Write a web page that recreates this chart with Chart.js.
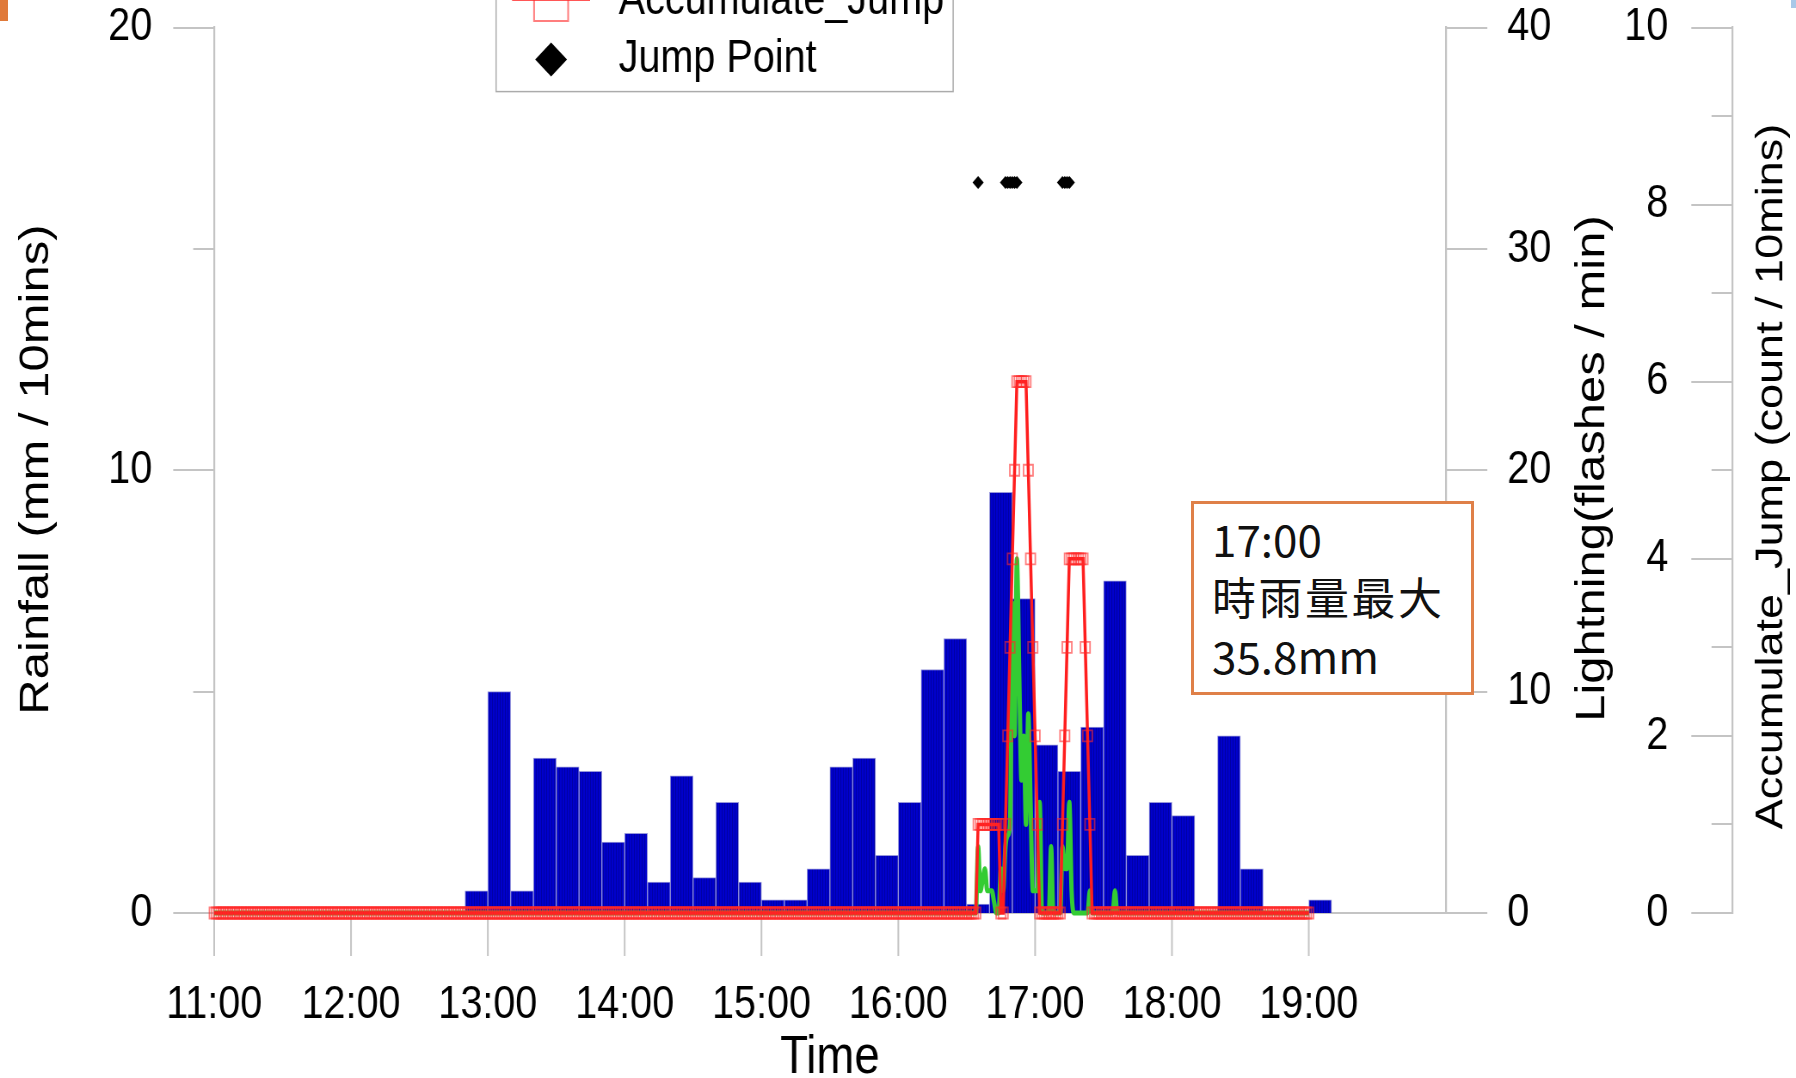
<!DOCTYPE html>
<html>
<head>
<meta charset="utf-8">
<title>Rainfall, Lightning and Lightning Jumps</title>
<script src="https://cdn.jsdelivr.net/npm/chart.js@4.4.1/dist/chart.umd.min.js"></script>
<style>
  html, body { margin: 0; padding: 0; background: #fff; }
  #stage { position: relative; width: 1796px; height: 1078px; overflow: hidden; background: #fff; }
  #chart { position: absolute; left: 0; top: 0; display: block; }
  #corner { position: absolute; left: 0; top: 0; width: 8px; height: 21px; background: #E07A3A; }
  #cornerR { position: absolute; left: 1791px; top: 0; width: 5px; height: 8px; background: #A9C8E8; }
  #note {
    position: absolute; left: 1191px; top: 501px; width: 283px; height: 194px;
    box-sizing: border-box; border: 3.5px solid #DF8048; background: #fff;
    font-family: "Noto Sans CJK TC", "Noto Sans", sans-serif; color: #111;
  }
  #note .ln { position: absolute; left: 18px; font-size: 44px; line-height: 44px; white-space: nowrap; }
  #note .cjk { letter-spacing: 2.5px; }
</style>
</head>
<body>
<div id="stage">
  <canvas id="chart" width="2088" height="1078" style="width:1796px;height:1078px;"></canvas>
  <div id="corner"></div>
  <div id="cornerR"></div>
  <div id="note">
    <div class="ln" style="top:12px">17:00</div>
    <div class="ln cjk" style="top:70px">時雨量最大</div>
    <div class="ln" style="top:129px">35.8mm</div>
  </div>
</div>
<script>
// ---------------- data ----------------
// hour tick labels on the time axis
const hourLabels = ['11:00', '12:00', '13:00', '14:00', '15:00', '16:00', '17:00', '18:00', '19:00'];

// 10-minute rainfall slots (start time of each slot)
const rainSlots = [
  '11:00', '11:10', '11:20', '11:30', '11:40', '11:50',
  '12:00', '12:10', '12:20', '12:30', '12:40', '12:50',
  '13:00', '13:10', '13:20', '13:30', '13:40', '13:50',
  '14:00', '14:10', '14:20', '14:30', '14:40', '14:50',
  '15:00', '15:10', '15:20', '15:30', '15:40', '15:50',
  '16:00', '16:10', '16:20', '16:30', '16:40', '16:50',
  '17:00', '17:10', '17:20', '17:30', '17:40', '17:50',
  '18:00', '18:10', '18:20', '18:30', '18:40', '18:50',
  '19:00'
];
// rainfall, mm / 10 mins
const rainfall = [
  0, 0, 0, 0, 0, 0,
  0, 0, 0, 0, 0, 0.5,
  5.0, 0.5, 3.5, 3.3, 3.2, 1.6,
  1.8, 0.7, 3.1, 0.8, 2.5, 0.7,
  0.3, 0.3, 1.0, 3.3, 3.5, 1.3,
  2.5, 5.5, 6.2, 0.2, 9.5, 7.1,
  3.8, 3.2, 4.2, 7.5, 1.3, 2.5,
  2.2, 0, 4.0, 1.0, 0, 0,
  0.3
];

// lightning, flashes / min, one value per minute from 11:00 to 19:00
const lightning = [
  // 11:00
  0,0,0,0,0,0,0,0,0,0, 0,0,0,0,0,0,0,0,0,0, 0,0,0,0,0,0,0,0,0,0,
  0,0,0,0,0,0,0,0,0,0, 0,0,0,0,0,0,0,0,0,0, 0,0,0,0,0,0,0,0,0,0,
  // 12:00
  0,0,0,0,0,0,0,0,0,0, 0,0,0,0,0,0,0,0,0,0, 0,0,0,0,0,0,0,0,0,0,
  0,0,0,0,0,0,0,0,0,0, 0,0,0,0,0,0,0,0,0,0, 0,0,0,0,0,0,0,0,0,0,
  // 13:00
  0,0,0,0,0,0,0,0,0,0, 0,0,0,0,0,0,0,0,0,0, 0,0,0,0,0,0,0,0,0,0,
  0,0,0,0,0,0,0,0,0,0, 0,0,0,0,0,0,0,0,0,0, 0,0,0,0,0,0,0,0,0,0,
  // 14:00
  0,0,0,0,0,0,0,0,0,0, 0,0,0,0,0,0,0,0,0,0, 0,0,0,0,0,0,0,0,0,0,
  0,0,0,0,0,0,0,0,0,0, 0,0,0,0,0,0,0,0,0,0, 0,0,0,0,0,0,0,0,0,0,
  // 15:00
  0,0,0,0,0,0,0,0,0,0, 0,0,0,0,0,0,0,0,0,0, 0,0,0,0,0,0,0,0,0,0,
  0,0,0,0,0,0,0,0,0,0, 0,0,0,0,0,0,0,0,0,0, 0,0,0,0,0,0,0,0,0,0,
  // 16:00
  0,0,0,0,0,0,0,0,0,0, 0,0,0,0,0,0,0,0,0,0, 0,0,0,0,0,0,0,0,0,0,
  0,0,0,0,0,3,1,1.5,2,1, 1,1,0.5,0,0,2,1,3,3.5,4, 14,8,16,11,6,8,4,9,5,1,
  // 17:00
  1,1,5,0,0,0,0,3,0,0, 0,0,3,2,2,5,1,0,0,0, 0,0,0,0,1,0,0,0,0,0,
  0,0,0,0,0,1,0,0,0,0, 0,0,0,0,0,0,0,0,0,0, 0,0,0,0,0,0,0,0,0,0,
  // 18:00
  0,0,0,0,0,0,0,0,0,0, 0,0,0,0,0,0,0,0,0,0, 0,0,0,0,0,0,0,0,0,0,
  0,0,0,0,0,0,0,0,0,0, 0,0,0,0,0,0,0,0,0,0, 0,0,0,0,0,0,0,0,0,0,
  // 19:00
  0
];

// jumps counted over the trailing 10 minutes, one value per minute from 11:00 to 19:00
const accumulateJump = [
  // 11:00
  0,0,0,0,0,0,0,0,0,0, 0,0,0,0,0,0,0,0,0,0, 0,0,0,0,0,0,0,0,0,0,
  0,0,0,0,0,0,0,0,0,0, 0,0,0,0,0,0,0,0,0,0, 0,0,0,0,0,0,0,0,0,0,
  // 12:00
  0,0,0,0,0,0,0,0,0,0, 0,0,0,0,0,0,0,0,0,0, 0,0,0,0,0,0,0,0,0,0,
  0,0,0,0,0,0,0,0,0,0, 0,0,0,0,0,0,0,0,0,0, 0,0,0,0,0,0,0,0,0,0,
  // 13:00
  0,0,0,0,0,0,0,0,0,0, 0,0,0,0,0,0,0,0,0,0, 0,0,0,0,0,0,0,0,0,0,
  0,0,0,0,0,0,0,0,0,0, 0,0,0,0,0,0,0,0,0,0, 0,0,0,0,0,0,0,0,0,0,
  // 14:00
  0,0,0,0,0,0,0,0,0,0, 0,0,0,0,0,0,0,0,0,0, 0,0,0,0,0,0,0,0,0,0,
  0,0,0,0,0,0,0,0,0,0, 0,0,0,0,0,0,0,0,0,0, 0,0,0,0,0,0,0,0,0,0,
  // 15:00
  0,0,0,0,0,0,0,0,0,0, 0,0,0,0,0,0,0,0,0,0, 0,0,0,0,0,0,0,0,0,0,
  0,0,0,0,0,0,0,0,0,0, 0,0,0,0,0,0,0,0,0,0, 0,0,0,0,0,0,0,0,0,0,
  // 16:00
  0,0,0,0,0,0,0,0,0,0, 0,0,0,0,0,0,0,0,0,0, 0,0,0,0,0,0,0,0,0,0,
  0,0,0,0,0,1,1,1,1,1, 1,1,1,1,1,0,0,1,2,3, 4,5,6,6,6,6,6,5,4,3,
  // 17:00
  2,1,0,0,0,0,0,0,0,0, 0,0,1,2,3,4,4,4,4,4, 4,4,3,2,1,0,0,0,0,0,
  0,0,0,0,0,0,0,0,0,0, 0,0,0,0,0,0,0,0,0,0, 0,0,0,0,0,0,0,0,0,0,
  // 18:00
  0,0,0,0,0,0,0,0,0,0, 0,0,0,0,0,0,0,0,0,0, 0,0,0,0,0,0,0,0,0,0,
  0,0,0,0,0,0,0,0,0,0, 0,0,0,0,0,0,0,0,0,0, 0,0,0,0,0,0,0,0,0,0,
  // 19:00
  0
];

// minutes at which a lightning jump was detected
const jumpTimes = ['16:35', '16:47', '16:48', '16:49', '16:50', '16:51', '16:52', '17:12', '17:13', '17:14', '17:15'];

// ---------------- drawing ----------------
const DAY_START_HOUR = 11;
const toMinutes = (s) => { const [h, m] = s.split(':').map(Number); return (h - DAY_START_HOUR) * 60 + m; };
const LAST_TICK = 480;         // 19:00 is the last labelled hour
const JUMP_LEVEL = 16.5;       // row on the rainfall axis where jump markers sit

// the drawing surface is laid out wider and shown horizontally condensed
const CW = 2088, CH = 1078;
const PLOT_LEFT = 249, PLOT_RIGHT = 1680.6, ACC_AXIS_X = 2013.6;
const PLOT_TOP = 27.5, PLOT_BOTTOM = 913;
const AXIS_GRAY = '#C4C4C4';
const FONT = '"Liberation Sans", Arial, Helvetica, sans-serif';
const MARK_RED = 'rgba(255,40,40,0.6)';

Chart.defaults.font.family = FONT;
Chart.defaults.color = '#000';

// striped blue fill for the rainfall bars
const tile = document.createElement('canvas');
tile.width = 3; tile.height = 4;
const tctx = tile.getContext('2d');
tctx.fillStyle = '#0000CC'; tctx.fillRect(0, 0, 3, 4);
tctx.fillStyle = '#0000A4'; tctx.fillRect(2, 0, 1, 4);
const barFill = tctx.createPattern(tile, 'repeat');

function hline(ctx, x1, x2, y) { ctx.beginPath(); ctx.moveTo(x1, y); ctx.lineTo(x2, y); ctx.stroke(); }
function vline(ctx, x, y1, y2) { ctx.beginPath(); ctx.moveTo(x, y1); ctx.lineTo(x, y2); ctx.stroke(); }

// fixed axis boxes: no extra room reserved for the end labels
function fixVertical(width) {
  return (s) => { s.width = width; s.paddingTop = 0; s.paddingBottom = 0; };
}

// tick marks for all four axes
const tickMarks = {
  id: 'tickMarks',
  beforeDatasetsDraw(chart) {
    const { ctx, scales } = chart;
    const { x, y, y2, y3 } = scales;
    ctx.save();
    ctx.strokeStyle = AXIS_GRAY;
    ctx.lineWidth = 2;
    y.ticks.forEach(t => {
      const py = Math.round(y.getPixelForValue(t.value));
      const len = t.value % 10 === 0 ? 47.6 : 24.4;
      hline(ctx, y.right - len, y.right, py);
    });
    y2.ticks.forEach(t => {
      const py = Math.round(y2.getPixelForValue(t.value));
      hline(ctx, y2.left, y2.left + 48.5, py);
    });
    y3.ticks.forEach(t => {
      const py = Math.round(y3.getPixelForValue(t.value));
      const len = t.value % 2 === 0 ? 47.3 : 23.8;
      hline(ctx, y3.left - len, y3.left, py);
    });
    x.ticks.forEach(t => {
      if (t.value > LAST_TICK) return;
      const px = x.getPixelForValue(t.value);
      vline(ctx, px, x.top, x.top + 43);
    });
    ctx.restore();
  }
};

// axis titles (all read bottom-to-top on the vertical axes)
const axisTitles = {
  id: 'axisTitles',
  afterDraw(chart) {
    const { ctx, chartArea } = chart;
    ctx.save();
    ctx.fillStyle = '#000';
    ctx.textAlign = 'center';
    ctx.textBaseline = 'middle';
    const up = (text, px, py, size) => {
      ctx.save();
      ctx.font = size + 'px ' + FONT;
      ctx.translate(px, py);
      ctx.rotate(-Math.PI / 2);
      ctx.fillText(text, 0, 0);
      ctx.restore();
    };
    up('Rainfall (mm / 10mins)', 42.7, 469.6, 49);
    up('Lightning(flashes / min)', 1851.3, 468.5, 49);
    up('Accumulate_Jump (count / 10mins)', 2060, 476.5, 45);
    ctx.font = '53px ' + FONT;
    ctx.textBaseline = 'alphabetic';
    ctx.fillText('Time', (chartArea.left + chartArea.right) / 2, 1073);
    ctx.restore();
  }
};

// legend box in the upper part of the plot (its top runs past the edge)
const legendBox = {
  id: 'legendBox',
  afterDraw(chart) {
    const { ctx } = chart;
    const boxL = 576.7, boxR = 1108.1, boxB = 91.6, rowGap = 58.5;
    const lineL = 595.3, lineR = 686, markX = 640.7, textX = 719.2;
    const sets = chart.data.datasets;
    ctx.save();
    ctx.fillStyle = '#fff';
    ctx.strokeStyle = '#ABABAB';
    ctx.lineWidth = 1.5;
    const boxT = boxB - rowGap * sets.length - 8;
    ctx.fillRect(boxL, boxT, boxR - boxL, boxB - boxT);
    ctx.strokeRect(boxL, boxT, boxR - boxL, boxB - boxT);
    sets.forEach((ds, i) => {
      const cy = 59.6 - (sets.length - 1 - i) * rowGap;
      if (ds.type === 'bar') {
        ctx.fillStyle = '#0000CC';
        ctx.fillRect(markX - 24, cy - 14, 48, 28);
      } else {
        if (ds.showLine !== false) {
          ctx.strokeStyle = ds.borderColor;
          ctx.lineWidth = ds.borderWidth;
          hline(ctx, lineL, lineR, cy - 2);
        }
        if (ds.pointRadius > 0) {
          if (ds.pointStyle === 'rect') {
            ctx.strokeStyle = MARK_RED;
            ctx.lineWidth = 2;
            ctx.beginPath();
            ctx.rect(markX - 19.8, cy - 16, 39.6, 36);
            ctx.stroke();
          } else {
            ctx.fillStyle = ds.pointBackgroundColor;
            ctx.beginPath();
            ctx.moveTo(markX, cy - 17); ctx.lineTo(markX + 18.5, cy);
            ctx.lineTo(markX, cy + 17); ctx.lineTo(markX - 18.5, cy);
            ctx.closePath(); ctx.fill();
          }
        }
      }
      ctx.fillStyle = '#000';
      ctx.font = '46px ' + FONT;
      ctx.textAlign = 'left';
      ctx.textBaseline = 'middle';
      ctx.fillText(ds.label, textX, cy);
    });
    ctx.restore();
  }
};

const tickFont = { size: 46, lineHeight: 1 };

new Chart(document.getElementById('chart'), {
  type: 'line',
  data: {
    datasets: [
      {
        type: 'bar',
        label: 'Rainfall',
        data: rainSlots.map((s, i) => ({ x: toMinutes(s) + 5, y: rainfall[i] })),
        backgroundColor: barFill,
        borderColor: 'rgba(140,140,215,0.9)',
        borderWidth: 1,
        borderSkipped: 'start',
        barPercentage: 1,
        categoryPercentage: 1,
        yAxisID: 'y',
        order: 4
      },
      {
        type: 'line',
        label: 'Lightning',
        data: lightning.map((v, i) => ({ x: i, y: v })),
        borderColor: '#33CC33',
        borderWidth: 5,
        pointRadius: 0,
        cubicInterpolationMode: 'monotone',
        clip: false,
        yAxisID: 'y2',
        order: 3
      },
      {
        type: 'line',
        label: 'Accumulate_Jump',
        data: accumulateJump.map((v, i) => ({ x: i, y: v })),
        borderColor: '#FF1E1E',
        borderWidth: 3.5,
        pointStyle: 'rect',
        pointRadius: 7.8,
        pointBorderWidth: 1.8,
        pointBorderColor: MARK_RED,
        pointBackgroundColor: 'rgba(255,255,255,0)',
        clip: false,
        yAxisID: 'y3',
        order: 2
      },
      {
        type: 'line',
        label: 'Jump Point',
        data: jumpTimes.map(t => ({ x: toMinutes(t), y: JUMP_LEVEL })),
        showLine: false,
        pointStyle: 'rectRot',
        pointRadius: 6.5,
        pointBorderWidth: 0,
        pointBackgroundColor: '#000',
        pointBorderColor: '#000',
        clip: false,
        yAxisID: 'y',
        order: 1
      }
    ]
  },
  options: {
    responsive: false,
    devicePixelRatio: 1,
    animation: false,
    events: [],
    layout: { padding: { top: PLOT_TOP, left: 0, right: 0, bottom: 0 } },
    plugins: { legend: { display: false }, tooltip: { enabled: false }, title: { display: false } },
    scales: {
      x: {
        type: 'linear',
        position: 'bottom',
        min: 0, max: 540,
        offset: false,
        grid: { display: false, drawTicks: false, offset: false },
        border: { display: true, color: AXIS_GRAY, width: 2 },
        ticks: {
          stepSize: 60, autoSkip: false, maxRotation: 0, minRotation: 0,
          padding: 69, font: tickFont,
          callback: (v) => (v <= LAST_TICK && v % 60 === 0) ? hourLabels[v / 60] : ''
        },
        afterFit: (s) => { s.height = CH - PLOT_BOTTOM; s.paddingLeft = 0; s.paddingRight = 0; }
      },
      y: {
        type: 'linear',
        position: 'left',
        min: 0, max: 20,
        grid: { display: false, drawTicks: false },
        border: { display: true, color: AXIS_GRAY, width: 2.2 },
        ticks: {
          stepSize: 5, padding: 72, font: tickFont,
          callback: (v) => v % 10 === 0 ? String(v) : ''
        },
        afterFit: fixVertical(PLOT_LEFT)
      },
      y2: {
        type: 'linear',
        position: 'right',
        weight: 0,
        min: 0, max: 40,
        grid: { display: false, drawTicks: false },
        border: { display: true, color: AXIS_GRAY, width: 2.2 },
        ticks: { stepSize: 10, padding: 71.7, font: tickFont },
        afterFit: fixVertical(ACC_AXIS_X - PLOT_RIGHT)
      },
      y3: {
        type: 'linear',
        position: 'right',
        weight: 1,
        min: 0, max: 10,
        grid: { display: false, drawTicks: false },
        border: { display: true, color: AXIS_GRAY, width: 2.2 },
        ticks: {
          // labels sit on the plot side of this axis line, right-aligned
          stepSize: 1, mirror: true, padding: -74.1, font: tickFont,
          callback: (v) => v % 2 === 0 ? String(v) : ''
        },
        afterFit: fixVertical(CW - ACC_AXIS_X)
      }
    }
  },
  plugins: [tickMarks, axisTitles, legendBox]
});
</script>
</body>
</html>
